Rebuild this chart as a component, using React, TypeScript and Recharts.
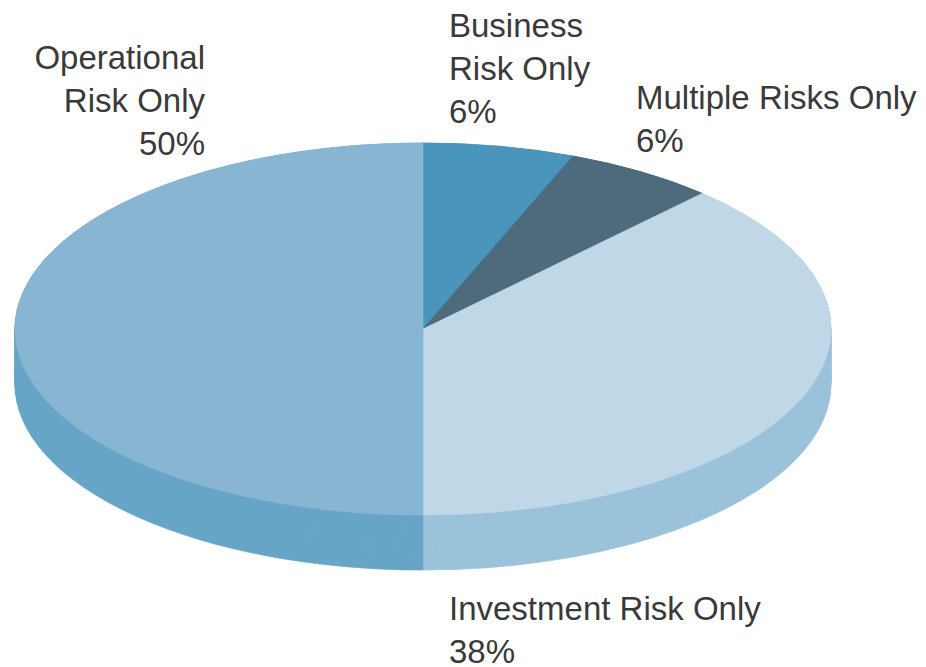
import { PieChart, Pie, Cell } from "recharts";

const CATEGORIES = ["Business Risk Only", "Multiple Risks Only", "Investment Risk Only", "Operational Risk Only"];
const SHARES = [6, 6, 38, 50];
const LABEL_LINES = [["Business", "Risk Only"], ["Multiple Risks Only"], ["Investment Risk Only"], ["Operational", "Risk Only"]];

const TOP_COLORS = ["#4a95bb", "#4e6b7e", "#bfd7e6", "#88b6d2"];
const SIDE_COLORS = ["#3d7fa1", "#405b6c", "#9bc3da", "#68a5c7"];

// label placement (left/right edge, top of first line, alignment)
const LABEL_POS = [
  { x: 449, y: 4, align: "left" },
  { x: 636, y: 76, align: "left" },
  { x: 449, y: 587, align: "left" },
  { x: 205, y: 36, align: "right" },
];

const CX = 423;
const CY = 329;
const RX = 408;
const SQUASH = 0.456;
const DEPTH = 55;
// the class ends up on two nested groups, so each one gets the square root
const STEP_SCALE = Math.sqrt(SQUASH);

const data = CATEGORIES.map((name, i) => ({ name, value: SHARES[i] }));

// offsets (unsquashed) for the stacked side layers
const layers: number[] = [];
for (let d = DEPTH / SQUASH; d > 0; d -= 2.5) layers.push(d);

export default function App() {
  return (
    <div style={{ position: "relative", width: 926, height: 667, fontFamily: "'Liberation Sans', Arial, sans-serif" }}>
      <style>{`
        body { margin: 0; }
        .squash { transform: scaleY(${STEP_SCALE}); transform-origin: ${CX}px ${CY}px; transform-box: view-box; }
      `}</style>
      <PieChart width={926} height={667} margin={{ top: 0, right: 0, bottom: 0, left: 0 }}>
        {layers.map((d) => (
          <Pie
            key={d}
            className="squash"
            data={data}
            dataKey="value"
            cx={CX}
            cy={CY + d}
            outerRadius={RX}
            startAngle={90}
            endAngle={-270}
            stroke="none"
            isAnimationActive={false}
          >
            {SIDE_COLORS.map((c, i) => (
              <Cell key={i} fill={c} stroke={c} />
            ))}
          </Pie>
        ))}
        <Pie
          className="squash"
          data={data}
          dataKey="value"
          cx={CX}
          cy={CY}
          outerRadius={RX}
          startAngle={90}
          endAngle={-270}
          isAnimationActive={false}
        >
          {TOP_COLORS.map((c, i) => (
            <Cell key={i} fill={c} stroke={c} strokeWidth={1} />
          ))}
        </Pie>
      </PieChart>
      {CATEGORIES.map((name, i) => {
        const p = LABEL_POS[i];
        return (
          <div
            key={name}
            style={{
              position: "absolute",
              top: p.y,
              left: p.align === "left" ? p.x : undefined,
              right: p.align === "right" ? 926 - p.x : undefined,
              textAlign: p.align as "left" | "right",
              fontSize: 33,
              lineHeight: "43px",
              color: "#3a3a3a",
              whiteSpace: "nowrap",
            }}
          >
            {LABEL_LINES[i].map((l) => (
              <div key={l}>{l}</div>
            ))}
            <div>{SHARES[i]}%</div>
          </div>
        );
      })}
    </div>
  );
}
